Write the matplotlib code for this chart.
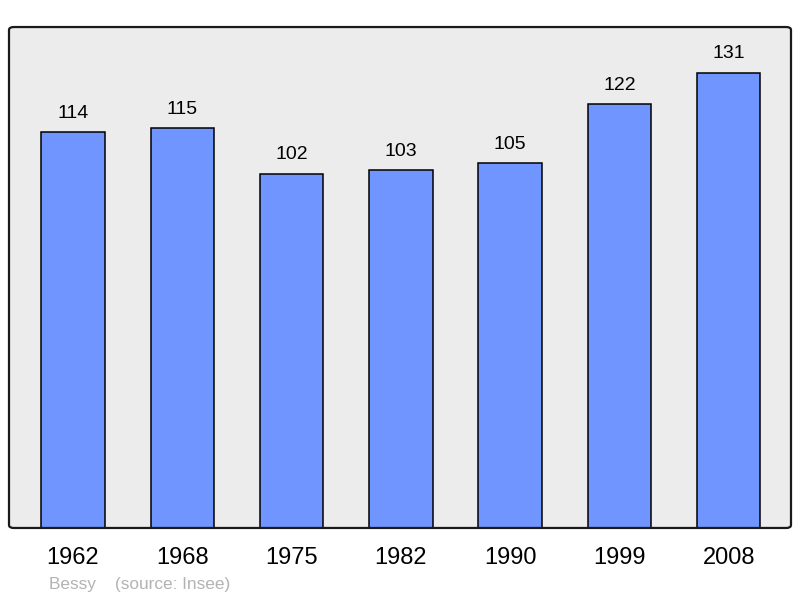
import matplotlib.pyplot as plt
import numpy as np
from matplotlib.patches import FancyBboxPatch

plt.rcParams['font.family'] = ['Liberation Sans', 'DejaVu Sans']

years = ['1962', '1968', '1975', '1982', '1990', '1999', '2008']
population = [114, 115, 102, 103, 105, 122, 131]

fig = plt.figure(figsize=(8, 5.98), dpi=100)
ax = fig.add_axes([0.01125, 0.1171, 0.9775, 0.8377])
ax.set_facecolor('#ececec')

x = np.arange(len(years))
bars = ax.bar(x, population, width=0.58, color='#7095ff', edgecolor='black', linewidth=1.1, zorder=2)

# valeurs au-dessus des barres
for bar, val in zip(bars, population):
    ax.annotate(f'{val}', (bar.get_x() + bar.get_width() / 2, bar.get_height()),
                xytext=(0, 7.5), textcoords='offset points',
                ha='center', va='bottom', fontsize=14, color='black')

ax.set_xlim(-0.585, 6.57)
ax.set_ylim(0, 144.2)
ax.set_xticks(x)
ax.set_xticklabels(years, fontsize=17)
ax.tick_params(axis='x', length=0, pad=14)
ax.set_yticks([])

# cadre aux coins arrondis
for s in ax.spines.values():
    s.set_visible(False)
frame = FancyBboxPatch((0, 0), 1, 1, boxstyle='round,pad=0,rounding_size=0.006',
                       transform=ax.transAxes, facecolor='none', edgecolor='#1a1a1a',
                       linewidth=1.6, clip_on=False, zorder=3)
ax.add_patch(frame)

fig.text(49 / 800, 1 - 584 / 598, 'Bessy    (source: Insee)', fontsize=12.4,
         color='#b3b3b3', ha='left', va='center')

fig.savefig('out.png', dpi=100)
